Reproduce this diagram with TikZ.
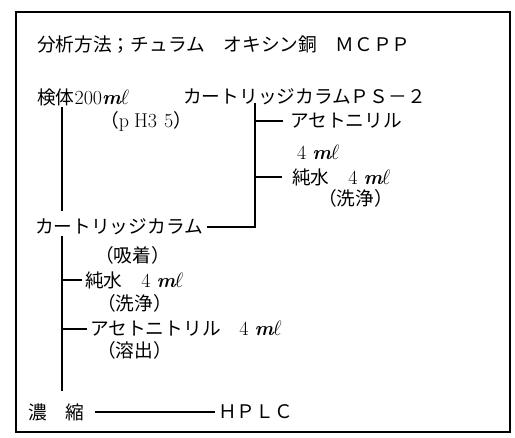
\documentclass[tikz,border=0pt]{standalone}
\usepackage{fontspec}
\newfontfamily\jp{Noto Sans CJK JP}
\newcommand{\mlunit}{{\bfseries\itshape m}\kern-0.5pt$\ell$}
\newcommand{\lat}{\rmfamily\fontsize{20}{22}\selectfont}
\begin{document}
\begin{tikzpicture}[x=1pt,y=-1pt,
  txt/.style={anchor=west,inner sep=0pt,font=\jp\fontsize{18.7}{22}\selectfont},
  conn/.style={line width=1.3pt},
  frame/.style={line width=2.4pt}]
\useasboundingbox (0,0) rectangle (515,438);
\draw[frame] (16,12) rectangle (510,432);
\coordinate (trunkA) at (62,0);
\coordinate (trunkB) at (255,0);
\node[txt] (title) at (37,45) {分析方法；チュラム　オキシン銅　ＭＣＰＰ};
\node[txt] (sample) at (37,97) {検体{\lat 200\mlunit}};
\node[txt] (ps2) at (183,97) {カートリッジカラムＰＳ－２};
\node[txt] (ph) at (100,121) {（{\lat p\hspace{5pt}H3\hspace{7pt}5}）};
\node[txt] (acn1) at (290,121) {アセトニリル};
\node[txt] (acn1v) at (297,152) {\lat 4 \mlunit};
\node[txt] (w1) at (292,177) {純水　{\lat 4 \mlunit}};
\node[txt] (wash1) at (318,198) {（洗浄）};
\node[txt] (cart) at (35,227) {カートリッジカラム};
\node[txt] (ads) at (95,255) {（吸着）};
\node[txt] (w2) at (85,280) {純水　{\lat 4 \mlunit}};
\node[txt] (wash2) at (97,303) {（洗浄）};
\node[txt] (acn2) at (90,329) {アセトニトリル　{\lat 4 \mlunit}};
\node[txt] (elu) at (97,350) {（溶出）};
\node[txt] (conc) at (28,412) {濃　縮};
\node[txt] (hplc) at (218,412) {ＨＰＬＣ};
% trunks
\draw[conn,shorten <=1pt,shorten >=8pt] (sample.south -| trunkA) -- (cart.north -| trunkA);
\draw[conn,shorten <=1pt,shorten >=12pt] (cart.south -| trunkA) -- (conc.north -| trunkA);
\draw[conn] ([xshift=4pt]cart.east) -- (cart.east -| trunkB) -- ([yshift=2pt]ps2.south -| trunkB);
% branches
\draw[conn] (acn1.west -| trunkB) -- ([xshift=-7pt]acn1.west);
\draw[conn] (w1.west -| trunkB) -- ([xshift=-10pt]w1.west);
\draw[conn] (w2.west -| trunkA) -- ([xshift=-3pt]w2.west);
\draw[conn] (acn2.west -| trunkA) -- ([xshift=-3pt]acn2.west);
\draw[conn] ([xshift=10pt]conc.east) -- ([xshift=-3pt]hplc.west);
\end{tikzpicture}
\end{document}
